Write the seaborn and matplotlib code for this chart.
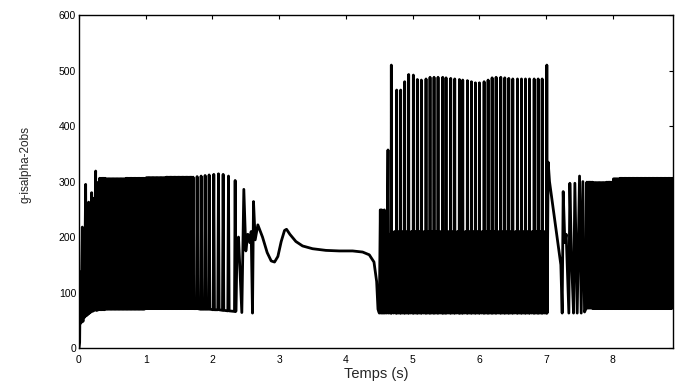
import matplotlib
matplotlib.use("Agg")
import matplotlib.pyplot as plt
import seaborn as sns
import pandas as pd

# ---- values ----
# start-up transient: (time s, value)
start_t = [0.00, 0.01, 0.02, 0.03, 0.05, 0.06, 0.075, 0.08, 0.10, 0.11, 0.125, 0.13,
           0.145, 0.15, 0.165, 0.17, 0.19, 0.20, 0.215, 0.22, 0.25, 0.255, 0.27, 0.275, 0.29, 0.295]
start_y = [0, 10, 137, 45, 218, 48, 150, 55, 295, 58, 240, 60,
           263, 62, 250, 64, 280, 66, 270, 67, 319, 68, 290, 68, 299, 69]

# first dense band, envelope per 0.1 s chunk from 0.3 s
band1_start = 0.3
band1_hi = [306, 305, 305, 305, 306, 306, 306, 307, 307, 307, 308, 308, 308, 308]
band1_lo = [69, 70, 70, 70, 70, 70, 70, 71, 71, 71, 71, 71, 71, 71]

# slower spikes before the oscillation dies out
slow_t = [1.71, 1.77, 1.83, 1.89, 1.95, 2.02, 2.09, 2.16, 2.24, 2.34]
slow_hi = [308, 309, 310, 311, 312, 313, 314, 313, 310, 302]
slow_lo = [71, 71, 70, 70, 70, 69, 69, 68, 67, 66]

# last wiggles and the smooth part
tail_t = [2.37, 2.39, 2.44, 2.47, 2.50, 2.53, 2.56, 2.58, 2.60, 2.615, 2.64, 2.68,
          2.75, 2.82, 2.88, 2.93, 2.98, 3.03, 3.08, 3.11, 3.16, 3.25, 3.35, 3.50,
          3.70, 3.90, 4.10, 4.25, 4.35, 4.42, 4.46, 4.48, 4.50]
tail_y = [185, 200, 64, 286, 175, 205, 190, 210, 63, 264, 195, 222,
          200, 172, 157, 155, 165, 192, 212, 214, 205, 192, 184, 179,
          176, 175, 175, 173, 168, 155, 120, 70, 63]

# restart before the big spikes
pre_t = [4.515, 4.525, 4.535, 4.545, 4.555, 4.565, 4.575, 4.585, 4.60, 4.61, 4.63, 4.637, 4.652, 4.662]
pre_y = [249, 63, 249, 63, 240, 63, 249, 63, 205, 63, 357, 63, 205, 63]

# big spikes
spike_t = [4.68, 4.76, 4.82, 4.88, 4.94, 5.01, 5.07, 5.13, 5.20, 5.26, 5.32, 5.38, 5.45,
           5.50, 5.57, 5.63, 5.70, 5.75, 5.82, 5.88, 5.94, 6.00, 6.07, 6.13, 6.19, 6.25,
           6.32, 6.38, 6.44, 6.50, 6.57, 6.63, 6.69, 6.75, 6.82, 6.88, 6.94, 7.01]
spike_hi = [510, 465, 465, 480, 493, 492, 484, 483, 485, 488, 488, 488, 488,
            487, 486, 485, 484, 483, 482, 480, 478, 478, 480, 483, 487, 488,
            488, 487, 486, 485, 485, 485, 485, 485, 485, 485, 485, 510]
spike_floor = 63
ripple_hi = [205, 210]

# after the spikes
post_t = [7.03, 7.05, 7.22, 7.24, 7.255, 7.28, 7.30, 7.34, 7.355, 7.38, 7.41, 7.43,
          7.465, 7.50, 7.525, 7.55, 7.575]
post_y = [335, 300, 150, 63, 282, 190, 205, 63, 297, 160, 63, 297,
          63, 310, 63, 300, 65]

# second dense band, envelope per 0.1 s chunk from 7.6 s
band2_start = 7.6
band2_hi = [299, 298, 298, 299, 305, 306, 306, 306, 306, 306, 306, 306, 306]
band2_lo = [72, 71, 71, 71, 71, 71, 71, 71, 71, 71, 71, 71, 71]


def band(t0, his, los, cycles=5, chunk=0.1):
    tt, yy = [], []
    step = chunk / cycles
    for i, (h, l) in enumerate(zip(his, los)):
        for k in range(cycles):
            tt += [t0 + i * chunk + k * step, t0 + i * chunk + (k + 0.5) * step]
            yy += [l, h]
    return tt, yy


t, y = list(start_t), list(start_y)
bt, by = band(band1_start, band1_hi, band1_lo)
t += bt; y += by
for ts, h, l in zip(slow_t, slow_hi, slow_lo):
    t += [ts - 0.01, ts, ts + 0.01]
    y += [l, h, l]
t += tail_t; y += tail_y
t += pre_t; y += pre_y
for i, (ts, h) in enumerate(zip(spike_t, spike_hi)):
    t += [ts - 0.004, ts, ts + 0.004]
    y += [spike_floor, h, spike_floor]
    if i + 1 < len(spike_t):
        gap = spike_t[i + 1] - ts
        t += [ts + 0.28 * gap, ts + 0.42 * gap, ts + 0.60 * gap, ts + 0.78 * gap]
        y += [ripple_hi[0], spike_floor, ripple_hi[1], spike_floor]
t += post_t; y += post_y
bt, by = band(band2_start, band2_hi, band2_lo)
t += bt; y += by

df = pd.DataFrame({"t": t, "y": y})

sns.set_style("white")
plt.rcParams['font.family'] = ['Liberation Sans', 'DejaVu Sans']

fig = plt.figure(figsize=(6.75, 3.88), dpi=100)
ax = fig.add_axes([0.117, 0.103, 0.880, 0.858])
sns.lineplot(data=df, x="t", y="y", sort=False, estimator=None,
             color="black", linewidth=2, ax=ax)

ax.set_xlim(0, 8.9)
ax.set_ylim(0, 600)
ax.set_xticks(range(0, 9))
ax.set_yticks(range(0, 601, 100))
ax.tick_params(direction="in", top=True, right=True, length=3, width=0.8,
               labelsize=7.5, colors="black")
ax.tick_params(axis="x", pad=5)
ax.tick_params(axis="y", pad=2)
for s in ax.spines.values():
    s.set_color("black")
    s.set_linewidth(1)

ax.set_xlabel("Temps (s)", fontsize=10.5)
ax.set_ylabel("g-isalpha-2obs", fontsize=8.5)
ax.xaxis.set_label_coords(0.5, -0.058)
ax.yaxis.set_label_coords(-0.08, 0.55)

fig.savefig("out.png", dpi=100)
